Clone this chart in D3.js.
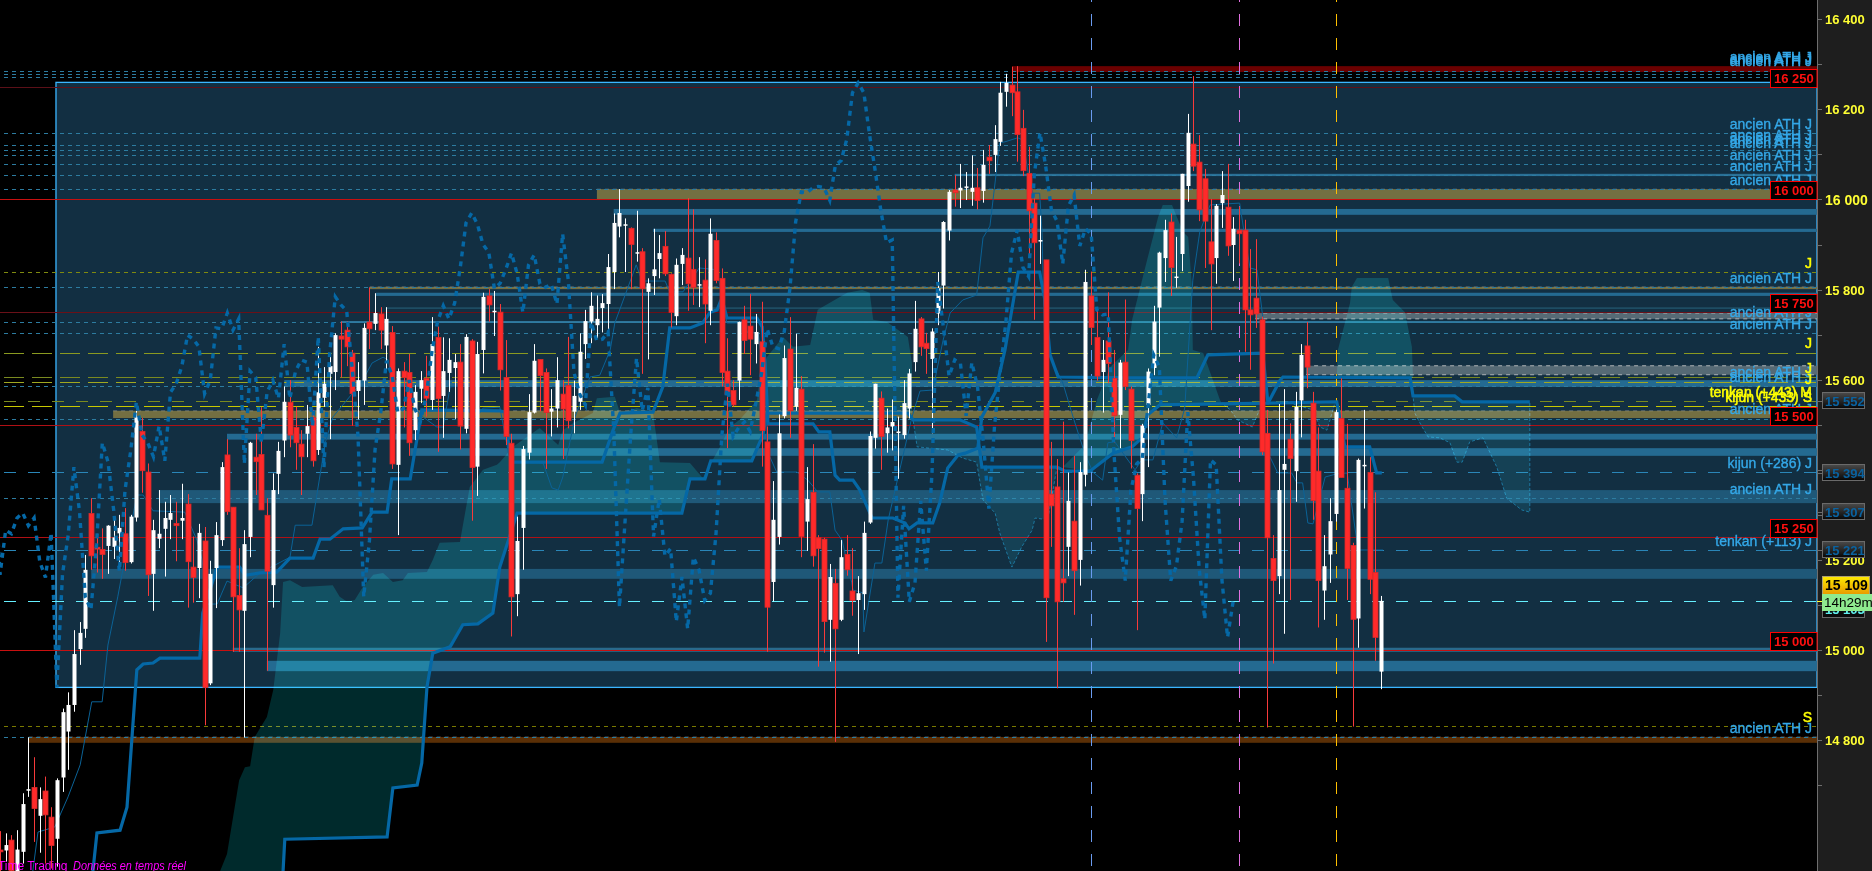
<!DOCTYPE html>
<html><head><meta charset="utf-8">
<script src="https://d3js.org/d3.v7.min.js"></script>
<style>html,body{margin:0;padding:0;background:#000;overflow:hidden}svg{display:block}text{font-family:"Liberation Sans",Arial,sans-serif}</style>
</head><body><svg id="c" width="1872" height="871"></svg>
<script>
const opens=[14556,14555,14578,14504,14552,14690,14695,14632,14687,14629,14581,14717,14819,14878,15002,15047,15303,15228,15223,15231,15229,15259,15258,15195,15294,15485,15395,15169,15247,15269,15289,15281,15287,15324,15184,15182,15242,14926,15182,15244,15433,15317,15121,15087,15251,15428,15434,15299,15144,15391,15465,15550,15494,15457,15480,15516,15444,15560,15613,15617,15697,15710,15659,15575,15598,15728,15724,15746,15676,15705,15411,15619,15616,15488,15580,15603,15555,15694,15564,15615,15626,15639,15491,15686,15407,15666,15786,15752,15750,15605,15459,15124,15271,15438,15527,15645,15616,15529,15536,15568,15587,15529,15551,15679,15729,15721,15759,15768,15839,15940,15944,15936,15882,15884,15795,15830,15868,15896,15834,15741,15857,15870,15845,15811,15821,15753,15909,15825,15619,15576,15598,15733,15719,15679,15684,15462,15151,15251,15519,15668,15540,15579,15285,15350,15249,15246,15067,15148,15067,15212,15131,15111,15124,15283,15471,15559,15481,15496,15484,15477,15536,15639,15735,15681,15646,15747,15809,15931,16021,16020,16028,16017,16026,16019,16094,16099,16128,16239,16254,16239,16158,16058,15992,15909,15866,15346,15362,15158,15229,15286,15200,15389,15786,15694,15617,15686,15603,15522,15639,15579,15388,15346,15544,15626,15760,15870,15950,15828,15879,16030,16123,16083,16046,15906,15870,15992,15983,15899,15932,15932,15755,15781,15733,15481,15203,15164,15400,15468,15397,15554,15675,15548,15397,15132,15212,15302,15514,15359,15232,15070,15410,15394,15172,14952];
const highs=[14598,14593,14589,14600,14682,14806,14762,14695,14719,14651,14715,14870,14906,15044,15062,15211,15337,15258,15270,15277,15289,15300,15315,15300,15531,15515,15414,15289,15355,15329,15344,15329,15369,15346,15252,15280,15273,15198,15284,15417,15468,15317,15226,15266,15462,15480,15539,15337,15392,15462,15585,15599,15540,15488,15544,15533,15673,15628,15655,15703,15729,15729,15666,15639,15725,15805,15792,15761,15761,15719,15625,15639,15657,15588,15619,15653,15739,15718,15694,15692,15657,15679,15701,15690,15684,15793,15801,15797,15768,15688,15480,15296,15453,15568,15679,15645,15625,15579,15650,15599,15695,15598,15703,15755,15794,15787,15790,15879,15969,16023,15958,15938,15975,15892,15825,15935,15921,15930,15836,15869,15892,16003,15978,15872,15867,15958,15927,15847,15692,15599,15729,15764,15790,15746,15773,15496,15375,15523,15676,15739,15702,15608,15406,15457,15255,15249,15191,15180,15244,15255,15226,15164,15285,15485,15591,15574,15536,15556,15518,15599,15624,15775,15739,15704,15714,15839,15952,16021,16054,16079,16061,16098,16070,16110,16121,16165,16261,16279,16295,16296,16199,16117,16006,15964,15866,15462,15424,15507,15394,15431,15417,15844,15840,15755,15688,15794,15666,15644,15778,15585,15392,15502,15625,15764,15884,15955,15969,15917,16057,16190,16274,16143,16068,16001,15990,16063,16079,15961,15984,15955,15890,15912,15740,15533,15255,15546,15579,15503,15573,15679,15728,15573,15494,15255,15337,15533,15603,15502,15238,15425,15533,15428,15350,15120];
const lows=[14509,14530,14505,14500,14526,14674,14574,14550,14526,14515,14519,14685,14734,14863,14967,15027,15178,15172,15158,15169,15202,15191,15176,15192,15285,15349,15120,15087,15226,15163,15246,15197,15246,15094,15105,15115,14833,14922,15093,15231,15300,14996,14996,14806,15206,15344,15311,14954,15094,15346,15428,15450,15400,15344,15428,15407,15433,15540,15468,15577,15605,15630,15498,15512,15544,15668,15710,15668,15618,15402,15255,15494,15431,15466,15548,15518,15533,15440,15471,15573,15513,15445,15481,15287,15342,15614,15729,15697,15576,15455,15030,15075,15178,15423,15525,15530,15402,15474,15494,15424,15492,15481,15533,15646,15681,15692,15705,15697,15801,15916,15839,15801,15862,15613,15645,15788,15825,15830,15716,15721,15810,15753,15766,15761,15681,15721,15814,15585,15448,15540,15555,15657,15610,15636,15407,14996,15108,15234,15514,15471,15531,15206,15220,15185,14963,14994,14974,14796,15064,15165,15076,14991,15089,15280,15447,15400,15438,15443,15380,15469,15514,15618,15653,15613,15481,15721,15758,15909,15984,15981,15999,15986,15978,15993,16057,16061,16119,16206,16185,16084,16052,15873,15733,15857,15018,15229,14915,15107,15164,15078,15143,15363,15677,15598,15527,15592,15461,15448,15577,15403,15044,15286,15406,15610,15651,15817,15786,15804,15841,15995,16063,15952,15848,15710,15813,15937,15875,15819,15858,15662,15622,15715,15433,14828,14970,15124,15036,15111,15329,15472,15581,15289,15050,15067,15149,15285,15383,15111,14830,15005,15314,15124,14976,14913];
const closes=[14552,14567,14510,14557,14658,14691,14648,14669,14634,14566,14711,14862,14878,14991,15038,15178,15209,15224,15212,15276,15250,15271,15194,15296,15518,15398,15167,15266,15258,15293,15304,15276,15293,15196,15161,15260,14917,15169,15255,15406,15307,15118,15089,15235,15460,15418,15311,15175,15355,15442,15551,15477,15460,15429,15497,15420,15572,15591,15630,15699,15690,15673,15569,15599,15715,15713,15748,15710,15735,15413,15619,15605,15460,15573,15599,15559,15679,15558,15619,15644,15639,15497,15695,15405,15657,15784,15766,15753,15622,15474,15118,15242,15446,15528,15642,15609,15527,15536,15599,15535,15509,15564,15662,15730,15764,15735,15770,15850,15948,15970,15945,15900,15883,15802,15814,15845,15881,15835,15749,15855,15877,15813,15805,15812,15768,15924,15820,15616,15568,15544,15728,15687,15690,15706,15487,15095,15289,15481,15648,15531,15582,15252,15335,15209,15225,15063,15162,15047,15206,15178,15110,15126,15260,15475,15591,15474,15494,15506,15485,15548,15614,15713,15673,15669,15707,15803,15950,16017,16015,16026,16029,16026,15998,16077,16086,16134,16237,16259,16237,16144,16064,15975,15904,15910,15116,15320,15107,15149,15331,15176,15395,15817,15716,15608,15644,15636,15520,15638,15585,15465,15314,15498,15618,15729,15882,15932,15849,15829,16057,16148,16074,15977,15952,15857,15986,16010,15897,15935,15924,15755,15744,15746,15440,15249,15154,15355,15413,15425,15540,15655,15628,15332,15154,15186,15286,15528,15383,15181,15068,15422,15411,15157,15028,15109];

const kijunBars=[15.9,16.6,20.6,21.8,23.5,24.6,26.3,27.5,34.4,34.9,37.4,41.3,42.2,44.8,47.7,50,54,55.2,56.9,59.2,62.5,64.2,66.8,67.6,70.8,72.8,86.3,87.2,87.5,88.4,104,105.9,107.1,112.8,114.5,115.7,119.2,121.4,122.7,123.9,124.7,125.6,130.8,131.7,132.2,132.7,140.5,141.5,143.4,144.3,145.1,147.4,148.6,150.7,154.3,156.4,157.1,158.5,161.2,162.4,163.8,165.6,166.8,169,169.7,172,173.7,176,179.7,180.6,181.5,182.9,195,206.9,208.8,218.3,219.2,231.1,232.5,236.8,238,238.9];
const kijunPrices=[14509,14594,14600,14651,14956,14969,14971,14982,14982,15082,15184,15184,15166,15171,15173,15204,15204,15246,15246,15269,15271,15306,15306,15380,15380,15533,15531,15528,15482,15417,15417,15488,15526,15528,15584,15715,15715,15726,15750,15755,15781,15737,15737,15717,15637,15502,15502,15484,15484,15388,15377,15377,15355,15293,15293,15282,15269,15282,15282,15326,15404,15433,15437,15448,15517,15571,15666,15839,15839,15777,15655,15606,15604,15604,15655,15659,15548,15551,15451,15451,15393,15393];
const senkouBars=[48.8,49.1,66.8,67.8,72,72.8,73.7,74.7,77.7,79.9,82.5,85.1,86.3,89.3,117.8,119.2,121.8,122.8,129.9,131.8,132.5,156.9,157.8,165.9,168.8,169.7,182.7,184.1,188.4,192.4,195.7,197.4,198.4,200.5,219.2,221.3,221.8,243.8,244.3,251.5,252.8,264.5];
const senkouPrices=[14509,14580,14585,14694,14700,14749,14918,14993,15007,15056,15058,15082,15184,15304,15304,15380,15380,15420,15420,15477,15526,15526,15511,15511,15495,15406,15406,15397,15397,15437,15451,15471,15522,15544,15548,15599,15606,15604,15564,15564,15551,15551];
const tenkanBars=[5.5,6.4,9.3,11.6,13.7,15.7,17.5,18.5,20.2,23.5,24.6,26.3,31.8,33.9,34.8,35.6,37.4,39.1,41.9,44.8,50,50.9,53.8,56.1,57.4,60.9,62.6,64.2,66.1,67,68.5,72,72.5,75.4,76.5,77.7,80.6,81.1,82.3,83.4,86.3,88.1,93.8,95.3,96.4,97.2,98.4,99.3,101.9,103.6,105.4,106.2,108.3,109.9,110.9,114.9,115.7,118,120.8,123.9,124.7,125.6,128.4,129.2,131,131.8,132.5,132.5,134.2,137.7,139.6,141.3,143.4,144.3,145.5,147.2,147.4,149.1,149.3,151.2,152.4,153.5,157.6,159,161.2,163,164.2,166.4,168.8,169.9,171.1,172.8,173.7,175.9,176.8,177.7,178.5,179.7,180.1,180.6,181.5,183.7,185.8,187.5,188.9,190.6,191.5,192.7,196.2,197.4,199.3,201,203.4,204.8,206.2,207.4,209.2,214.3,215.2,216.1,217.3,218.3,218.7,220.9,223.3,224.2,225.2,226.1,227,229.1,231.1,232.9,234.8,239.1];
const tenkanPrices=[14509,14596,14607,14674,14745,14885,14885,15011,15118,15344,15344,15309,15306,15244,15200,15102,15102,15153,15138,15171,15206,15277,15277,15460,15517,15571,15599,15637,15650,15644,15533,15533,15522,15495,15495,15584,15588,15526,15517,15537,15539,15417,15415,15360,15355,15384,15460,15517,15606,15610,15666,15726,15799,15855,15819,15819,15795,15795,15848,15844,15784,15726,15726,15704,15704,15622,15517,15444,15395,15395,15377,15351,15351,15266,15244,15149,15133,15127,15040,15193,15193,15289,15517,15575,15577,15688,15748,15777,15788,15915,15941,16126,16128,16137,16132,16061,16014,16014,15932,15666,15650,15593,15504,15437,15395,15377,15460,15462,15400,15422,15422,15504,15471,15537,15821,15928,15988,15992,15917,15848,15844,15739,15451,15393,15393,15371,15371,15282,15280,15384,15391,15393,15222,15222];

const cloud1=[[37.9,14509],[39.1,14547],[41.2,14711],[42.2,14740],[43.1,14742],[43.9,14807],[46,14851],[47.1,14911],[48.3,15038],[48.8,15151],[50,15155],[52.1,15140],[57.4,15144],[58.6,15118],[59.9,15107],[61.2,15111],[62.6,15140],[64.4,15167],[66.1,15171],[67.8,15151],[69.5,15155],[70.4,15171],[73.7,15173],[74.7,15200],[75.9,15238],[79.4,15240],[81.1,15362],[83.4,15400],[85.8,15411],[86.3,15417],[88.6,15451],[93.2,15493],[94.1,15482],[96.4,15455],[97.2,15488],[99,15504],[102.4,15526],[103.1,15559],[106.2,15562],[107.1,15526],[110,15537],[112.8,15528],[114,15417],[119.2,15415],[121.4,15382],[121.8,15380],[119.2,15380],[117.8,15304],[89.3,15304],[86.3,15184],[85.1,15082],[82.5,15058],[79.9,15056],[77.7,15007],[74.7,14993],[73.7,14918],[72.8,14749],[72,14700],[67.8,14694],[66.8,14585],[49.1,14580],[48.8,14509]];
const cloud2=[[121.4,15382],[124.4,15451],[126.1,15495],[127.8,15511],[130.8,15555],[131.3,15606],[132.5,15650],[135.3,15695],[137,15673],[140,15677],[141.3,15755],[146.4,15793],[149,15799],[150.3,15793],[150.9,15733],[153.3,15728],[156.9,15695],[157.6,15637],[157.6,15526],[156.9,15526],[132.5,15526],[131.8,15477],[129.9,15420],[122.8,15420],[121.8,15380]];
const cloud3=[[157.8,15511],[165.9,15511],[168.8,15495],[169.7,15406],[182.7,15406],[181.1,15289],[178.9,15293],[178.4,15266],[176.6,15229],[174.9,15184],[172.8,15260],[172,15304],[169.9,15333],[168.8,15417],[166.4,15426],[163.8,15444],[158.5,15451]];
const cloud4=[[183.7,15406],[187.5,15455],[189.6,15555],[191.9,15628],[195,15666],[195.7,15733],[198.3,15866],[200.2,15961],[201,15988],[202.6,15988],[204.5,15928],[205.4,15917],[206,15815],[206.2,15666],[208,15659],[210.9,15555],[211.2,15548],[200.5,15544],[198.4,15522],[197.4,15471],[195.7,15451],[192.4,15437],[188.4,15397]];
const cloud5=[[231.1,15604],[231.3,15666],[233.4,15770],[233.7,15806],[234.6,15826],[240,15826],[240.8,15777],[242.9,15750],[244.1,15673],[244.3,15604]];
const cloud6=[[244.3,15564],[251.5,15564],[252.8,15551],[264.5,15551],[264.5,15306],[263.1,15311],[260.5,15337],[258.8,15406],[256.4,15471],[254.1,15462],[252.8,15417],[251.9,15417],[250.7,15460],[248.9,15471],[246.9,15473],[246.4,15484],[245.5,15504],[244.6,15526]];
const cloud7=[[211.2,15548],[218.7,15548],[217.5,15526],[216.5,15495],[213.9,15511],[212.7,15533]];
const cloud8=[[222.2,15551],[231.1,15551],[230.7,15544],[229.4,15488],[228.2,15495],[227,15533]];

const roundLevels=[16250,16000,15750,15500,15250,15000];
const roundLabels=["16 250","16 000","15 750","15 500","15 250","15 000"];
const roundColors=["#5c1018","#c81010","#6a1018","#b01015","#b01015","#c81010"];
const blueStart=[106,112.8,64.9,66.6,58.8,49,39.1,70.8,27.3,15.6,40.1,46,165];
const blueHigh=[15979,15935,15793,15760,15730,15599,15480,15448,15355,15180,15005,14976,16057];
const blueLow=[15966,15928,15786,15758,15726,15584,15467,15431,15326,15158,14996,14953,16052];
const blueFill=["#246a91","#246a91","#246a91","#2a6a85","#3480a8","#246a91","#246a91","#246a91","#1f5878","#1f5878","#2a6a8c","#246a91","#2a7096"];
const solidStart=[19.4,103.1,63.8,175,4.8,217,225.8];
const solidHigh=[15531,16023,15806,16296,14807,15748,15631];
const solidLow=[15515,15999,15801,16283,14794,15735,15611];
const solidFill=["#736f42","#736f42","#736f42","#6b0000","#5a2f06","#566a75","#566a75"];
const solidEdge=[1,1,1,0,1,1,1];
const athLevels=[16285,16278,16271,16147,16120,16110,16098,16078,16054,16023,15805,15729,15703,15586,15512,15337,14806];
const longBlueLevels=[15395,15221];
const cyanLevels=[15109];
const oliveLevels=[15839,15659,15605,15594,15552,15541,14831];
const oliveColors=["#7f8a10","#8a9a20","#7a8a20","#a0a820","#7a8a20","#c8c800","#7a7a00"];
const oliveDash=["4 4","20 8","20 8","20 8","12 12","20 8","4 4"];
const verticalBars=[188.6,214.2,231.0];
const verticalColors=["#6a9bf0","#e070e0","#ffc000"];
const levelTexts=["ancien ATH J","ancien ATH J","ancien ATH J","ancien ATH J","ancien ATH J","ancien ATH J","ancien ATH J","ancien ATH J","ancien ATH J","ancien ATH J","ancien ATH J","ancien ATH J","ancien ATH J","ancien ATH J","ancien ATH J","ancien ATH J","ancien ATH J","kijun (+286) J","tenkan (+113) J","ancien ATH J"];
const levelTextPrices=[16305,16301,16296,16157,16132,16123,16114,16088,16063,16032,15815,15739,15713,15606,15595,15524,15346,15404,15231,14816];
const yellowTexts=["J","J","J","J","tenkan (+443) M","kijun (+433) S","S"];
const yellowPrices=[15848,15670,15615,15590,15562,15551,14840];
const axisTicks=[16400,16300,16200,16100,16000,15900,15800,15700,15600,15500,15400,15300,15200,15100,15000,14900,14800,14700];
const axisLabels=["16 400","16 200","16 000","15 800","15 600","15 400","15 200","15 000","14 800"];
const axisLabelPrices=[16400,16200,16000,15800,15600,15400,15200,15000,14800];
const indicatorLabels=["15 552","15 394","15 307","15 221"];
const indicatorPrices=[15552,15394,15307,15221];

const W=1872,H=871,axisX=1817;
const y=d3.scaleLinear().domain([15000,16400]).range([650,19.3]);
const x=d3.scaleLinear().domain([0,243]).range([0,1381]);
const ox=d3.scaleLinear().domain([0,239]).range([1,1382.4]);
const svg=d3.select("#c");
const defs=svg.append("defs");
const g1=defs.append("linearGradient").attr("id","gBox").attr("x1",0).attr("y1",0).attr("x2",0).attr("y2",1);
g1.append("stop").attr("offset","0").attr("stop-color","#4a4a4a");g1.append("stop").attr("offset","1").attr("stop-color","#060606");
const g2=defs.append("linearGradient").attr("id","gGold").attr("x1",0).attr("y1",0).attr("x2",0).attr("y2",1);
g2.append("stop").attr("offset","0").attr("stop-color","#ffea00");g2.append("stop").attr("offset","1").attr("stop-color","#e89a00");
svg.append("rect").attr("width",W).attr("height",H).attr("fill","#000");
const plot=svg.append("g");

// analysis rectangle
plot.append("rect").attr("x",x(9.85)).attr("y",y(16260)).attr("width",axisX-x(9.85)).attr("height",y(14917)-y(16260)).attr("fill","#122f42").attr("stroke","#3bb6ff").attr("stroke-width",1.3);

// bands
plot.selectAll(".band").data(blueStart).join("rect").attr("x",d=>ox(d)).attr("width",d=>axisX-ox(d))
 .attr("y",(d,i)=>y(blueHigh[i])).attr("height",(d,i)=>y(blueLow[i])-y(blueHigh[i])).attr("fill",(d,i)=>blueFill[i]);
plot.selectAll(".solid").data(solidStart).join("rect").attr("x",d=>ox(d)).attr("width",d=>axisX-ox(d))
 .attr("y",(d,i)=>y(solidHigh[i])).attr("height",(d,i)=>y(solidLow[i])-y(solidHigh[i])).attr("fill",(d,i)=>solidFill[i]);
solidStart.forEach((d,i)=>{ if(!solidEdge[i])return;
 [solidHigh[i],solidLow[i]].forEach((p,k)=>{ if(k==1&&i<5)return;
  plot.append("line").attr("x1",ox(d)).attr("x2",axisX).attr("y1",y(p)).attr("y2",y(p)).attr("stroke","#c8c8c8").attr("stroke-opacity",i<5?.35:.8).attr("stroke-dasharray","4 4");});});

// level lines
function hline(p,col,dash,w,x0){plot.append("line").attr("x1",x0).attr("x2",axisX).attr("y1",Math.round(y(p))+.5).attr("y2",Math.round(y(p))+.5).attr("stroke",col).attr("stroke-width",w||1).attr("stroke-dasharray",dash||null);}
roundLevels.forEach((p,i)=>hline(p,roundColors[i],null,1,0));
athLevels.forEach(p=>hline(p,"#2d7ca0","4 4",1,4));
longBlueLevels.forEach(p=>hline(p,"#2a86b8","12 12",1,4));
cyanLevels.forEach(p=>hline(p,"#66f0ff","12 12",1,4));
oliveLevels.forEach((p,i)=>hline(p,oliveColors[i],oliveDash[i],1,4));

// cloud
const area=d3.line().x(d=>ox(d[0])).y(d=>y(d[1]));
[cloud1,cloud2,cloud4,cloud5].forEach(c=>{
 plot.append("path").attr("d",area(c)+"Z").attr("fill","#002a2c").style("mix-blend-mode","screen");});
[cloud3,cloud6,cloud7,cloud8].forEach(c=>{
 plot.append("path").attr("d",area(c)+"Z").attr("fill","#03161a").attr("stroke","#0b5a80").attr("stroke-dasharray","3 2").style("mix-blend-mode","screen");});

// verticals
verticalBars.forEach((b,i)=>{plot.append("line").attr("x1",Math.round(ox(b))+.5).attr("x2",Math.round(ox(b))+.5).attr("y1",-10).attr("y2",H).attr("stroke",verticalColors[i]).attr("stroke-dasharray","12 12");});

// indicator lines
const tenkan=d3.line().x((d,i)=>ox(d)).y((d,i)=>y(tenkanPrices[i]));
plot.append("path").attr("d",tenkan(tenkanBars)).attr("fill","none").attr("stroke","#0b6296").attr("stroke-width",1);
const kijun=d3.line().x(d=>ox(d)).y((d,i)=>y(kijunPrices[i]));
const senkou=d3.line().x(d=>ox(d)).y((d,i)=>y(senkouPrices[i]));
plot.append("path").attr("d",kijun(kijunBars)).attr("fill","none").attr("stroke","#0568a6").attr("stroke-width",3.2);
plot.append("path").attr("d",senkou(senkouBars)).attr("fill","none").attr("stroke","#0568a6").attr("stroke-width",3.2);

// candles
const idx=d3.range(opens.length);
const cx=i=>Math.round(x(i));
plot.selectAll(".wick").data(idx).join("line").attr("x1",i=>cx(i)+.5).attr("x2",i=>cx(i)+.5).attr("y1",i=>y(highs[i])).attr("y2",i=>y(lows[i]))
 .attr("stroke",i=>closes[i]>=opens[i]?"#fff":"#f83a3a");
plot.selectAll(".body").data(idx).join("rect").attr("x",i=>closes[i]>=opens[i]?cx(i)-1.5:cx(i)-2)
 .attr("width",i=>closes[i]>=opens[i]?4:5)
 .attr("y",i=>y(Math.max(opens[i],closes[i]))).attr("height",i=>Math.max(1.5,Math.abs(y(opens[i])-y(closes[i]))))
 .attr("fill",i=>closes[i]>=opens[i]?"#fff":"#ff2a2a").attr("stroke",i=>closes[i]>=opens[i]?"none":"#d82a2a").attr("stroke-width",.8);

// chikou
const chikou=d3.line().x(i=>x(i-26)).y(i=>y(closes[i]));
plot.append("path").attr("d",chikou(idx)).attr("fill","none").attr("stroke","#0568a6").attr("stroke-width",3.4).attr("stroke-dasharray","5 5");

// axis panel
svg.append("rect").attr("x",axisX).attr("y",0).attr("width",W-axisX).attr("height",H).attr("fill","#1e1e1e");
svg.append("line").attr("x1",axisX+.5).attr("x2",axisX+.5).attr("y1",0).attr("y2",H).attr("stroke","#6e6e6e");
svg.selectAll(".tk").data(axisTicks).join("line").attr("x1",axisX).attr("x2",axisX+5).attr("y1",d=>Math.round(y(d))+.5).attr("y2",d=>Math.round(y(d))+.5).attr("stroke","#6e6e6e");
svg.selectAll(".al").data(axisLabels).join("text").text(d=>d).attr("x",1825).attr("y",(d,i)=>y(axisLabelPrices[i])+5)
 .attr("fill","#ffff33").attr("font-weight","bold").attr("font-size",d=>d=="16 000"?14:13);

// level texts
const labels=svg.append("g").attr("text-anchor","end").attr("font-size",14);
labels.selectAll(".lt").data(levelTexts).join("text").text(d=>d).attr("x",1812).attr("y",(d,i)=>y(levelTextPrices[i])).attr("fill","#34a8e8").attr("stroke","#34a8e8").attr("stroke-width",.35);
labels.selectAll(".yt").data(yellowTexts).join("text").text(d=>d).attr("x",1812).attr("y",(d,i)=>y(yellowPrices[i])).attr("fill","#ffff00").attr("stroke","#ffff00").attr("stroke-width",.45);

// round boxes
roundLevels.forEach((p,i)=>{const by=Math.round(y(p));
 svg.append("rect").attr("x",1770.5).attr("y",by-17.5).attr("width",46.5).attr("height",18).attr("fill","#000").attr("stroke","#f00");
 svg.append("text").text(roundLabels[i]).attr("x",1774).attr("y",by-4).attr("fill","#ff1010").attr("font-weight","bold").attr("font-size",13);});

// indicator boxes
indicatorLabels.forEach((t,i)=>{const cy=Math.round(y(indicatorPrices[i]));
 svg.append("line").attr("x1",axisX).attr("x2",1822).attr("y1",cy+.5).attr("y2",cy+.5).attr("stroke","#6e6e6e");
 svg.append("rect").attr("x",1822.5).attr("y",cy-8.5).attr("width",42).attr("height",16).attr("fill","url(#gBox)").attr("stroke","#6a6a6a");
 svg.append("text").text(t).attr("x",1825).attr("y",cy+4.5).attr("fill","#0a62a0").attr("font-weight","bold").attr("font-size",13);});
// hidden price behind the countdown
svg.append("rect").attr("x",1822.5).attr("y",596.5).attr("width",42).attr("height",21).attr("fill","#0a0a0a").attr("stroke","#6a6a6a");
svg.append("text").text("15 103").attr("x",1825).attr("y",614).attr("fill","#60eeee").attr("font-weight","bold").attr("font-size",13);
// current price
svg.append("line").attr("x1",axisX).attr("x2",1822).attr("y1",601.5).attr("y2",601.5).attr("stroke","#ffff33");
svg.append("rect").attr("x",1822.5).attr("y",576.5).attr("width",47).attr("height",18).attr("fill","url(#gGold)").attr("stroke","#b0a070");
svg.append("text").text("15 109").attr("x",1825).attr("y",590).attr("fill","#000").attr("font-weight","bold").attr("font-size",14);
svg.append("rect").attr("x",1822).attr("y",594).attr("width",50).attr("height",17).attr("fill","#8fea8f");
svg.append("text").text("14h29m").attr("x",1824).attr("y",607).attr("fill","#000").attr("font-size",13.5);

// footer
svg.append("text").text("ProRealTime Trading").attr("x",67.5).attr("y",870).attr("text-anchor","end").attr("fill","#ff00ff").attr("font-size",12);
svg.append("text").text("Données en temps réel").attr("x",73).attr("y",870).attr("textLength",113).attr("lengthAdjust","spacingAndGlyphs").attr("font-style","italic").attr("fill","#ff00ff").attr("font-size",12);
</script></body></html>
